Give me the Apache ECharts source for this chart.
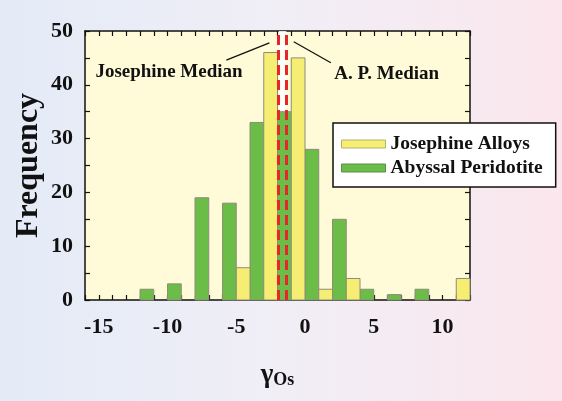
<!DOCTYPE html>
<html>
<head>
<meta charset="utf-8">
<script src="https://cdn.jsdelivr.net/npm/echarts@6/dist/echarts.min.js"></script>
<style>
  html, body { margin: 0; padding: 0; }
  body {
    width: 562px; height: 401px; overflow: hidden;
    background: linear-gradient(to right, #e3ebf7 0%, #f1eef6 50%, #fbe7ed 100%);
  }
  #chart { width: 562px; height: 401px; }
</style>
</head>
<body>
<div id="chart"></div>
<script>
// Histogram bins: left edge of each 2-unit γOs bin
const binStart = [-12, -10, -8, -6, -4, -2, 0, 2, 4, 6, 8, 10];
// Counts per bin
const josephineAlloys   = [0, 0, 0, 6, 46, 45, 2, 4, 0, 0, 0, 4];
const abyssalPeridotite = [2, 3, 19, 18, 33, 35, 28, 15, 2, 1, 2, 0];
// Median γOs values
const josephineMedian = -1.91;
const apMedian = -1.36;

const seriesNames = ['Josephine Alloys', 'Abyssal Peridotite'];
const yellow = '#f6ee72';
const green = '#6bbd47';
const FONT = 'Liberation Serif';

// Green occupies the left half of each bin, yellow the right half
function barRenderer(offset, color) {
  return function (params, api) {
    const x0 = api.value(0) + offset;
    const v = api.value(1);
    if (!v) return null;
    const p0 = api.coord([x0, v]);
    const p1 = api.coord([x0 + 1, 0]);
    return {
      type: 'rect',
      shape: { x: p0[0], y: p0[1], width: p1[0] - p0[0], height: p1[1] - p0[1] },
      style: { fill: color, stroke: '#8c8c7a', lineWidth: 1 }
    };
  };
}

const axisLine = { show: true, onZero: false, lineStyle: { color: '#111', width: 1.5 } };
const axisTick = { show: true, inside: true, length: 5, lineStyle: { color: '#111', width: 1.2 } };
const labelFont = { fontFamily: FONT, fontWeight: 'bold', fontSize: 22, color: '#111' };

const chart = echarts.init(document.getElementById('chart'), null, { renderer: 'canvas' });
chart.setOption({
  backgroundColor: 'transparent',
  animation: false,
  grid: { left: 85, right: 92, top: 31, bottom: 101, show: true, backgroundColor: '#fffbd8', borderWidth: 0 },
  legend: {
    orient: 'vertical',
    left: 333, top: 123,
    backgroundColor: '#ffffff',
    borderColor: '#111', borderWidth: 1.5,
    padding: [11, 13, 9, 8],
    itemWidth: 44, itemHeight: 8, itemGap: 4,
    textStyle: { fontFamily: FONT, fontWeight: 'bold', fontSize: 19.5, color: '#111', lineHeight: 20 },
    data: [
      { name: seriesNames[0], icon: 'rect', itemStyle: { color: yellow, borderColor: '#b5b07a', borderWidth: 1 } },
      { name: seriesNames[1], icon: 'rect', itemStyle: { color: green, borderColor: '#5a8f4a', borderWidth: 1 } }
    ]
  },
  xAxis: [
    {
      type: 'value', min: -16, max: 12, interval: 1, position: 'bottom',
      axisLine, axisTick, splitLine: { show: false },
      axisLabel: Object.assign({ margin: 16, formatter: v => (v % 5 === 0 ? String(v) : '') }, labelFont),
      name: '{g|γ}{s|Os}', nameLocation: 'middle', nameGap: 59, nameMoveOverlap: false,
      nameTextStyle: {
        rich: {
          g: { fontFamily: FONT, fontWeight: 'bold', fontSize: 27, color: '#111', verticalAlign: 'bottom' },
          s: { fontFamily: FONT, fontWeight: 'bold', fontSize: 18, color: '#111', padding: [12, 0, 0, 0], verticalAlign: 'bottom' }
        }
      }
    },
    {
      type: 'value', min: -16, max: 12, interval: 1, position: 'top',
      axisLine, axisTick, axisLabel: { show: false }, splitLine: { show: false }
    }
  ],
  yAxis: [
    {
      type: 'value', min: 0, max: 50, interval: 5, position: 'left',
      axisLine, axisTick, splitLine: { show: false },
      axisLabel: Object.assign({ margin: 12, formatter: v => (v % 10 === 0 ? String(v) : '') }, labelFont),
      name: 'Frequency', nameLocation: 'middle', nameGap: 40, nameMoveOverlap: false,
      nameTextStyle: { fontFamily: FONT, fontWeight: 'bold', fontSize: 32, color: '#111' }
    },
    {
      type: 'value', min: 0, max: 50, interval: 5, position: 'right',
      axisLine, axisTick, axisLabel: { show: false }, splitLine: { show: false }
    }
  ],
  series: [
    {
      // band between the two medians
      type: 'line', data: [], z: 1, silent: true,
      markArea: {
        silent: true,
        itemStyle: { color: 'rgba(255,255,255,0.85)' },
        data: [[{ xAxis: josephineMedian }, { xAxis: apMedian }]]
      }
    },
    {
      name: seriesNames[1], type: 'custom', z: 2,
      itemStyle: { color: green },
      renderItem: barRenderer(0, green),
      data: binStart.map((b, i) => [b, abyssalPeridotite[i]])
    },
    {
      name: seriesNames[0], type: 'custom', z: 2,
      itemStyle: { color: yellow },
      renderItem: barRenderer(1, yellow),
      data: binStart.map((b, i) => [b, josephineAlloys[i]])
    },
    {
      // median lines, leader lines and their labels
      type: 'line', data: [], z: 5, silent: true,
      markLine: {
        silent: true, symbol: ['none', 'none'],
        label: { show: false },
        lineStyle: { color: '#e8262a', width: 3, type: [10, 5] },
        data: [
          { xAxis: josephineMedian },
          { xAxis: apMedian },
          [{ coord: [-5.72, 44.6], lineStyle: { color: '#111', width: 1.3, type: 'solid' } }, { coord: [-2.59, 47.8] }],
          [{ coord: [-0.82, 48.0], lineStyle: { color: '#111', width: 1.3, type: 'solid' } }, { coord: [1.88, 44.1] }]
        ]
      },
      markPoint: {
        silent: true, symbol: 'rect', symbolSize: 0,
        label: {
          show: true, position: 'inside', formatter: '{b}',
          fontFamily: FONT, fontWeight: 'bold', fontSize: 19, color: '#111'
        },
        data: [
          { name: 'Josephine Median', coord: [-9.89, 42.4] },
          { name: 'A. P. Median', coord: [5.94, 42.0] }
        ]
      }
    }
  ]
});
</script>
</body>
</html>
